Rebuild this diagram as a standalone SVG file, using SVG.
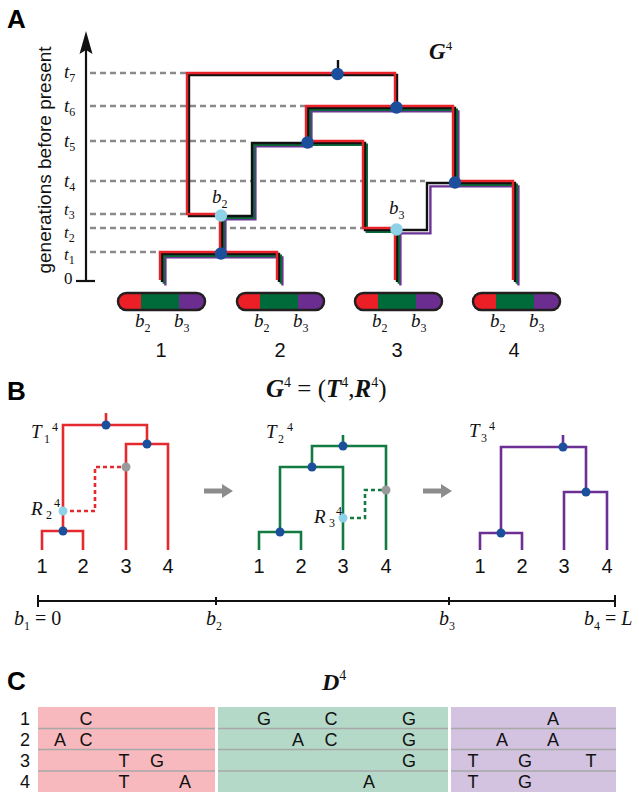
<svg xmlns="http://www.w3.org/2000/svg" width="639" height="800" viewBox="0 0 639 800">
<style>
.lbl{font-family:"Liberation Sans",Arial,sans-serif;font-weight:bold;font-size:26px;fill:#000}
.sans{font-family:"Liberation Sans",Arial,sans-serif;fill:#111}
.ser{font-family:"Liberation Serif","Times New Roman",serif;fill:#111}
.it{font-family:"Liberation Serif","Times New Roman",serif;font-style:italic;fill:#111}
.bi{font-family:"Liberation Serif","Times New Roman",serif;font-style:italic;font-weight:bold;fill:#111}
.sub{font-style:normal;font-size:12px}
.dash{stroke:#8a8a8a;stroke-width:2.3;stroke-dasharray:6 4;fill:none}
.ln{fill:none;stroke-width:2.4;stroke-linejoin:miter;stroke-linecap:butt}
.r{stroke:#e8232a}.k{stroke:#111}.g{stroke:#0a6b3a}.p{stroke:#6b3495}
.tb{fill:none;stroke-width:2.6;stroke-linejoin:miter}
.tr{stroke:#e52a2f}.tg{stroke:#137a42}.tp{stroke:#6c2f93}
.nd{fill:#1b4e9b}.nl{fill:#8dd2e6}.ng{fill:#9a9a9a}
.arrow{fill:#8c8c8c}
.seq{font-family:"Liberation Sans",Arial,sans-serif;font-size:18px;fill:#111;text-anchor:middle}
</style>
<defs>
<clipPath id="cc"><rect x="0" y="0" width="87" height="17" rx="8.5"/></clipPath>
<g id="chrom">
<g clip-path="url(#cc)">
<rect x="0" y="0" width="23" height="17" fill="#ec1f27"/>
<rect x="23" y="0" width="38" height="17" fill="#006b3a"/>
<rect x="61" y="0" width="26" height="17" fill="#6b2d90"/>
</g>
<rect x="0" y="0" width="87" height="17" rx="8.5" fill="none" stroke="#231f20" stroke-width="2.5"/>
</g>
</defs>

<!-- Panel labels -->
<text class="lbl" x="7" y="28">A</text>
<text class="lbl" x="7" y="400">B</text>
<text class="lbl" x="7" y="690">C</text>

<!-- Panel A axis -->
<g id="axisA">
<line x1="86" y1="48" x2="86" y2="281" stroke="#111" stroke-width="2.2"/>
<path d="M86,31 L92.5,54 L86,50 L79.5,54 Z" fill="#111"/>
<line x1="76" y1="281" x2="95" y2="281" stroke="#111" stroke-width="2.2"/>
<text class="sans" font-size="19" text-anchor="middle" transform="translate(51,160) rotate(-90)">generations before present</text>
<text class="ser" font-size="17" x="64" y="284">0</text>
<text class="it" font-size="19" x="64" y="78">t<tspan class="sub" dy="4">7</tspan></text>
<text class="it" font-size="19" x="64" y="112">t<tspan class="sub" dy="4">6</tspan></text>
<text class="it" font-size="19" x="64" y="147">t<tspan class="sub" dy="4">5</tspan></text>
<text class="it" font-size="19" x="64" y="187">t<tspan class="sub" dy="4">4</tspan></text>
<text class="it" font-size="17" x="64" y="215">t<tspan class="sub" dy="4">3</tspan></text>
<text class="it" font-size="17" x="64" y="238">t<tspan class="sub" dy="4">2</tspan></text>
<text class="it" font-size="17" x="64" y="260">t<tspan class="sub" dy="4">1</tspan></text>
<path class="dash" d="M90,73 H187 M90,106 H305 M90,141 H250 M90,181 H425 M90,214 H187 M90,228 H363 M90,252 H160"/>
</g>

<text class="bi" font-size="23" x="429" y="59">G<tspan font-weight="normal" font-style="normal" font-size="13" dy="-9">4</tspan></text>

<!-- Panel A ARG connectors -->
<g id="connectorsA">
<path class="ln p" transform="translate(5.4,5.4)" d="M160,280 V252 H277 V280 M220,252 V214 H250 V141 H306 V106 H453 V181 H513 V280 M395,280 V228 H425 V181 H453"/>
<path class="ln g" transform="translate(3.8,3.8)" d="M160,280 V252 H277 V280 M220,252 V214 H250 V141 H363 V228 H395 V280 M306,141 V106 H453 V181 H513 V280"/>
<path class="ln k" transform="translate(2,2)" d="M160,280 V252 H277 V280 M220,252 V214 H187 V73 H395 V106 M220,214 H250 V141 H363 V228 H425 V181 H513 V280 M306,141 V106 H453 V181 M395,280 V228"/>
<path class="ln r" d="M160,280 V252 H277 V280 M220,252 V214 H187 V73 H395 V106 M395,280 V228 H363 V141 H306 V106 H453 V181 H513 V280"/>
<line x1="338" y1="60" x2="338" y2="74" stroke="#111" stroke-width="2.4"/>
</g>

<!-- Panel A nodes -->
<g id="nodeA-root"><circle class="nd" cx="337.5" cy="74" r="6.2"/></g>
<g id="nodeA-t6"><circle class="nd" cx="396.5" cy="107.5" r="6.2"/></g>
<g id="nodeA-t5"><circle class="nd" cx="307.5" cy="142.5" r="6.2"/></g>
<g id="nodeA-t4"><circle class="nd" cx="455" cy="182.5" r="6.2"/></g>
<g id="nodeA-t1"><circle class="nd" cx="221" cy="253.5" r="6.2"/></g>
<g id="nodeA-b2"><circle class="nl" cx="221" cy="215.5" r="6.2"/>
<text class="it" font-size="19" x="212" y="203">b<tspan class="sub" dy="5">2</tspan></text></g>
<g id="nodeA-b3"><circle class="nl" cx="396.5" cy="229.5" r="6.2"/>
<text class="it" font-size="19" x="389" y="214">b<tspan class="sub" dy="5">3</tspan></text></g>

<!-- Chromosomes -->
<g id="chrom1"><use href="#chrom" x="118" y="293"/>
<text class="it" font-size="19" x="135" y="327">b<tspan class="sub" dy="5">2</tspan></text>
<text class="it" font-size="19" x="174" y="327">b<tspan class="sub" dy="5">3</tspan></text>
<text class="sans" font-size="20" x="161" y="357" text-anchor="middle">1</text></g>
<g id="chrom2"><use href="#chrom" x="237" y="293"/>
<text class="it" font-size="19" x="254" y="327">b<tspan class="sub" dy="5">2</tspan></text>
<text class="it" font-size="19" x="293" y="327">b<tspan class="sub" dy="5">3</tspan></text>
<text class="sans" font-size="20" x="280" y="357" text-anchor="middle">2</text></g>
<g id="chrom3"><use href="#chrom" x="355" y="293"/>
<text class="it" font-size="19" x="372" y="327">b<tspan class="sub" dy="5">2</tspan></text>
<text class="it" font-size="19" x="411" y="327">b<tspan class="sub" dy="5">3</tspan></text>
<text class="sans" font-size="20" x="397" y="357" text-anchor="middle">3</text></g>
<g id="chrom4"><use href="#chrom" x="473" y="293"/>
<text class="it" font-size="19" x="490" y="327">b<tspan class="sub" dy="5">2</tspan></text>
<text class="it" font-size="19" x="529" y="327">b<tspan class="sub" dy="5">3</tspan></text>
<text class="sans" font-size="20" x="514" y="357" text-anchor="middle">4</text></g>

<!-- Panel B title -->
<text class="ser" font-size="25" x="266" y="397"><tspan class="bi">G</tspan><tspan font-size="14" dy="-10">4</tspan><tspan dy="10"> = (</tspan><tspan class="bi">T</tspan><tspan font-size="14" dy="-10">4</tspan><tspan dy="10">,</tspan><tspan class="bi">R</tspan><tspan font-size="14" dy="-10">4</tspan><tspan dy="10">)</tspan></text>

<!-- Tree 1 -->
<g id="tree1-connectors">
<path class="tb tr" d="M106,413 V425 M63,531 V425 H147 V444 M126,550 V444 H168 V550 M42,550 V531 H83 V550"/>
<path class="tb tr" stroke-dasharray="4 3" d="M63,511 H95 V467 H126"/>
</g>
<g id="tree1-nodes">
<circle class="nd" cx="106" cy="425" r="4.5"/>
<circle class="nd" cx="147" cy="444" r="4.5"/>
<circle class="nd" cx="63" cy="531" r="4.5"/>
<circle class="nl" cx="63" cy="511" r="4.5"/>
<circle class="ng" cx="126" cy="467" r="4.5"/>
</g>
<g id="tree1-labels">
<text class="it" font-size="19" x="31" y="438">T<tspan class="sub" x="44" dy="5">1</tspan><tspan class="sub" x="52" dy="-12">4</tspan></text>
<text class="it" font-size="19" x="31" y="515">R<tspan class="sub" x="46" dy="4">2</tspan><tspan class="sub" x="54" dy="-12">4</tspan></text>
<text class="sans" font-size="20" text-anchor="middle" x="42" y="573">1</text>
<text class="sans" font-size="20" text-anchor="middle" x="83" y="573">2</text>
<text class="sans" font-size="20" text-anchor="middle" x="126" y="573">3</text>
<text class="sans" font-size="20" text-anchor="middle" x="168" y="573">4</text>
</g>

<g id="arrow1"><path class="arrow" d="M204,488.5 H222 V484 L233,491 L222,498 V493.5 H204 Z"/></g>

<!-- Tree 2 -->
<g id="tree2-connectors">
<path class="tb tg" d="M343,435 V446 M312,467 V446 H386 V550 M280,532 V467 H343 V550 M259,550 V532 H301 V550"/>
<path class="tb tg" stroke-dasharray="4 3" d="M343,518 H365 V490 H386"/>
</g>
<g id="tree2-nodes">
<circle class="nd" cx="343" cy="446" r="4.5"/>
<circle class="nd" cx="312" cy="467" r="4.5"/>
<circle class="nd" cx="280" cy="532" r="4.5"/>
<circle class="nl" cx="343" cy="518" r="4.5"/>
<circle class="ng" cx="386" cy="490" r="4.5"/>
</g>
<g id="tree2-labels">
<text class="it" font-size="19" x="266" y="438">T<tspan class="sub" x="278" dy="5">2</tspan><tspan class="sub" x="287" dy="-12">4</tspan></text>
<text class="it" font-size="19" x="314" y="523">R<tspan class="sub" x="329" dy="4">3</tspan><tspan class="sub" x="336" dy="-12">4</tspan></text>
<text class="sans" font-size="20" text-anchor="middle" x="259" y="573">1</text>
<text class="sans" font-size="20" text-anchor="middle" x="301" y="573">2</text>
<text class="sans" font-size="20" text-anchor="middle" x="343" y="573">3</text>
<text class="sans" font-size="20" text-anchor="middle" x="386" y="573">4</text>
</g>

<g id="arrow2"><path class="arrow" d="M423,488.5 H441 V484 L452,491 L441,498 V493.5 H423 Z"/></g>

<!-- Tree 3 -->
<g id="tree3-connectors">
<path class="tb tp" d="M563,435 V447 M501,533 V447 H586 V492 M564,550 V492 H607 V550 M480,550 V533 H522 V550"/>
</g>
<g id="tree3-nodes">
<circle class="nd" cx="563" cy="447" r="4.5"/>
<circle class="nd" cx="586" cy="492" r="4.5"/>
<circle class="nd" cx="501" cy="533" r="4.5"/>
</g>
<g id="tree3-labels">
<text class="it" font-size="19" x="469" y="437">T<tspan class="sub" x="481" dy="5">3</tspan><tspan class="sub" x="489" dy="-12">4</tspan></text>
<text class="sans" font-size="20" text-anchor="middle" x="480" y="573">1</text>
<text class="sans" font-size="20" text-anchor="middle" x="522" y="573">2</text>
<text class="sans" font-size="20" text-anchor="middle" x="564" y="573">3</text>
<text class="sans" font-size="20" text-anchor="middle" x="607" y="573">4</text>
</g>

<!-- Genome axis -->
<g id="genome-axis">
<path d="M38,601 H615 M38,595 V607 M615,595 V607 M216,597 V605 M449,597 V605" stroke="#111" stroke-width="2" fill="none"/>
<text class="it" font-size="20" x="14" y="625">b<tspan class="sub" dy="5">1</tspan><tspan font-style="normal" dy="-5"> = 0</tspan></text>
<text class="it" font-size="20" x="206" y="625">b<tspan class="sub" dy="5">2</tspan></text>
<text class="it" font-size="20" x="439" y="625">b<tspan class="sub" dy="5">3</tspan></text>
<text class="it" font-size="20" x="584" y="625">b<tspan class="sub" dy="5">4</tspan><tspan font-style="normal" dy="-5"> = </tspan><tspan>L</tspan></text>
</g>

<!-- Panel C -->
<text class="bi" font-size="24" x="322" y="690">D<tspan font-weight="normal" font-style="normal" font-size="14" dy="-10">4</tspan></text>
<g id="alignment">
<rect x="38" y="707" width="177" height="85" fill="#f7b9be"/>
<rect x="218" y="707" width="230" height="85" fill="#b5d9c9"/>
<rect x="451" y="707" width="165" height="85" fill="#d3c3e1"/>
<path d="M38,728.5 H616 M38,749.5 H616 M38,771 H616" stroke="#a8a8a8" stroke-width="1.5"/>
<rect x="215" y="707" width="3" height="85" fill="#fff"/>
<rect x="448" y="707" width="3" height="85" fill="#fff"/>
<text class="seq" x="25" y="725">1</text>
<text class="seq" x="25" y="746">2</text>
<text class="seq" x="25" y="767">3</text>
<text class="seq" x="25" y="788">4</text>
<text class="seq" x="86" y="725">C</text>
<text class="seq" x="264" y="725">G</text>
<text class="seq" x="331" y="725">C</text>
<text class="seq" x="409" y="725">G</text>
<text class="seq" x="553" y="725">A</text>
<text class="seq" x="60" y="746">A</text>
<text class="seq" x="86" y="746">C</text>
<text class="seq" x="298" y="746">A</text>
<text class="seq" x="331" y="746">C</text>
<text class="seq" x="409" y="746">G</text>
<text class="seq" x="502" y="746">A</text>
<text class="seq" x="553" y="746">A</text>
<text class="seq" x="124" y="767">T</text>
<text class="seq" x="157" y="767">G</text>
<text class="seq" x="409" y="767">G</text>
<text class="seq" x="473" y="767">T</text>
<text class="seq" x="525" y="767">G</text>
<text class="seq" x="591" y="767">T</text>
<text class="seq" x="124" y="788">T</text>
<text class="seq" x="185" y="788">A</text>
<text class="seq" x="369" y="788">A</text>
<text class="seq" x="473" y="788">T</text>
<text class="seq" x="525" y="788">G</text>
</g>
</svg>
